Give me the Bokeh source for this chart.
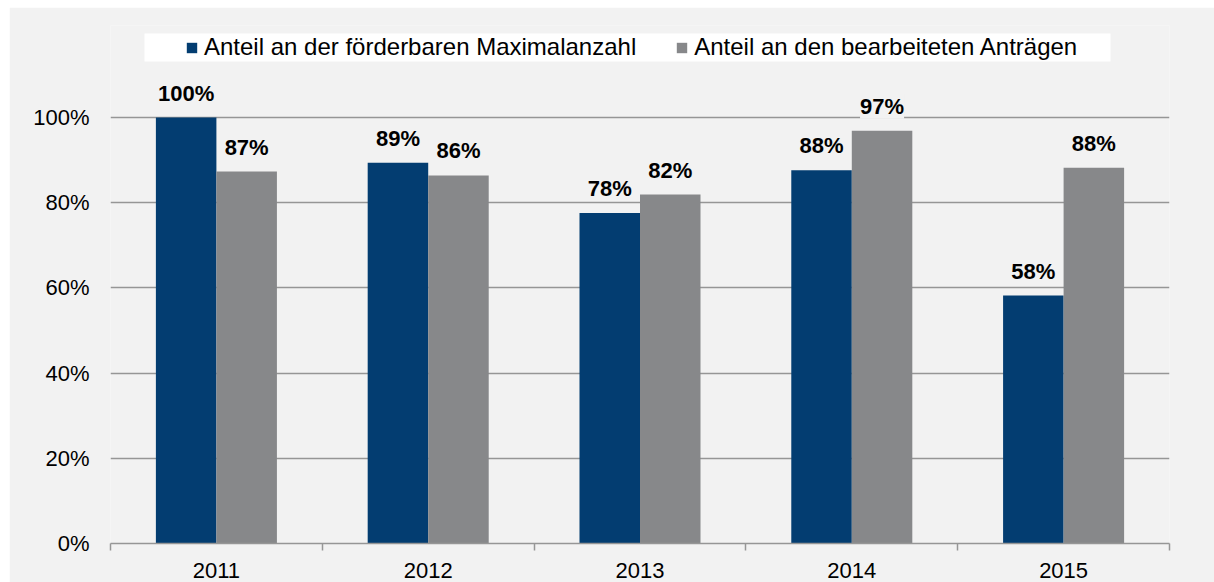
from bokeh.plotting import figure
from bokeh.models import (ColumnDataSource, Range1d, FixedTicker,
                          PrintfTickFormatter, Legend, LabelSet, BoxAnnotation)
from bokeh.core.properties import value
from bokeh.transform import dodge
from bokeh.embed import file_html
from bokeh.resources import INLINE

# ---- data ----
years = ["2011", "2012", "2013", "2014", "2015"]
share_max = [100.0, 89.4, 77.6, 87.6, 58.2]          # Anteil an der förderbaren Maximalanzahl
share_processed = [87.3, 86.4, 81.9, 96.9, 88.2]     # Anteil an den bearbeiteten Anträgen
series_names = ["Anteil an der förderbaren Maximalanzahl",
                "Anteil an den bearbeiteten Anträgen"]
y_ticks = [0, 20, 40, 60, 80, 100]

# ---- style ----
BLUE = "#033d71"
GRAY = "#87888a"
BG = "#f2f2f2"
GRID = "#969696"
FONT = "Liberation Sans"

n = len(years)
centres = [i + 0.5 for i in range(n)]   # category slot centres on a 0..n axis

source = ColumnDataSource(dict(
    pos=centres,
    year=years,
    a=share_max,
    b=share_processed,
    a_lbl=[f"{v:.0f}%" for v in share_max],
    b_lbl=[f"{v:.0f}%" for v in share_processed],
))

p = figure(width=1205, height=575,
           x_range=Range1d(0, n),
           y_range=Range1d(0, 121.6),
           output_backend="svg", toolbar_location=None,
           min_border_left=101, min_border_right=45,
           min_border_top=18, min_border_bottom=39)
p.margin = (7, 0, 0, 9)

p.background_fill_color = BG
p.border_fill_color = BG
p.outline_line_color = None
p.xgrid.visible = False

# y axis
p.yaxis.ticker = FixedTicker(ticks=y_ticks)
p.yaxis.formatter = PrintfTickFormatter(format="%d%%")
p.yaxis.axis_line_color = None
p.yaxis.major_tick_line_color = None
p.yaxis.minor_tick_line_color = None
p.yaxis.major_tick_out = 0
p.yaxis.major_tick_in = 0
p.yaxis.major_label_standoff = 21
p.yaxis.major_label_text_font = FONT
p.yaxis.major_label_text_font_size = "22px"
p.yaxis.major_label_text_color = "black"
p.ygrid.grid_line_color = GRID
p.ygrid.grid_line_width = 1.5

# x axis: labels at category centres, tick marks at category boundaries
xa = p.xaxis[0]
xa.ticker = FixedTicker(ticks=centres, minor_ticks=list(range(n + 1)))
xa.major_label_overrides = {c: y for c, y in zip(centres, years)}
xa.axis_line_color = GRID
xa.axis_line_width = 1.5
xa.major_tick_line_color = None
xa.major_tick_out = 0
xa.major_tick_in = 0
xa.minor_tick_line_color = GRID
xa.minor_tick_line_width = 1.5
xa.minor_tick_out = 7
xa.minor_tick_in = 0
xa.major_label_standoff = 12
xa.major_label_text_font = FONT
xa.major_label_text_font_size = "22px"
xa.major_label_text_color = "black"

W = 0.2857
r1 = p.vbar(x=dodge("pos", -W / 2), top="a", width=W,
            source=source, fill_color=BLUE, line_color=None)
r2 = p.vbar(x=dodge("pos", W / 2), top="b", width=W,
            source=source, fill_color=GRAY, line_color=None)

lbl_kw = dict(source=source, y_offset=17, text_align="center", text_baseline="alphabetic",
              text_font=value(FONT), text_font_size="22px", text_font_style="bold",
              text_color="black", background_fill_color=BG)
if "padding" in LabelSet.properties():
    lbl_kw["padding"] = 6
p.add_layout(LabelSet(x=dodge("pos", -W / 2), y="a", text="a_lbl", **lbl_kw))
p.add_layout(LabelSet(x=dodge("pos", W / 2), y="b", text="b_lbl", **lbl_kw))

# legend with white box
box = BoxAnnotation(left=34, right=1000, bottom=482, top=510,
                    left_units="screen", right_units="screen",
                    bottom_units="screen", top_units="screen",
                    fill_color="white", fill_alpha=1.0, line_color=None)
p.add_layout(box)

legend = Legend(items=[(series_names[0], [r1]), (series_names[1], [r2])],
                orientation="horizontal", location=(75, 482),
                padding=0, margin=0, spacing=39,
                glyph_width=13, glyph_height=13, label_standoff=6, label_height=28,
                label_text_font=FONT, label_text_font_size="24px", label_text_color="black",
                background_fill_alpha=0, border_line_color=None)
p.add_layout(legend)

open("out.html", "w").write(file_html(p, INLINE))
